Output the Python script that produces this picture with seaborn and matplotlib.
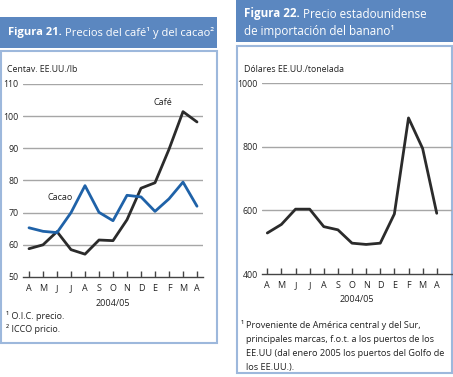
import matplotlib
matplotlib.use("Agg")
import matplotlib.pyplot as plt
from matplotlib.patches import Rectangle
import seaborn as sns
import pandas as pd

# ---- data ----
months = ["A", "M", "J", "J", "A", "S", "O", "N", "D", "E", "F", "M", "A"]
cafe = [58.8, 60.0, 64.1, 58.5, 57.1, 61.5, 61.3, 67.8, 77.6, 79.3, 89.7, 101.4, 98.2]
cacao = [65.3, 64.2, 63.8, 70.0, 78.4, 70.1, 67.5, 75.4, 74.9, 70.4, 74.3, 79.5, 72.0]
banano = [529, 556, 604, 604, 549, 539, 497, 493, 497, 589, 891, 795, 591]
left_yticks = [50, 60, 70, 80, 90, 100, 110]
right_yticks = [400, 600, 800, 1000]

sns.set_theme(style="white")
plt.rcParams['font.family'] = ['Open Sans', 'DejaVu Sans']

W, H = 453, 377
fig = plt.figure(figsize=(W / 100, H / 100), dpi=100)
bg = fig.add_axes([0, 0, 1, 1])
bg.set_xlim(0, W)
bg.set_ylim(H, 0)
bg.axis("off")

HEAD = "#5b87c0"
BORDER = "#9db8dc"
TXT = "#222222"

# panels
bg.add_patch(Rectangle((0, 17), 217, 31, facecolor=HEAD, edgecolor="none"))
bg.add_patch(Rectangle((0.8, 51), 216, 292, facecolor="white", edgecolor=BORDER, lw=1.5))
bg.add_patch(Rectangle((236, 0), 217, 42, facecolor=HEAD, edgecolor="none"))
bg.add_patch(Rectangle((236.8, 46), 215.5, 327, facecolor="white", edgecolor=BORDER, lw=1.5))

renderer = fig.canvas.get_renderer()


def two_part(x, y, bold, regular, size):
    t = bg.text(x, y, bold, color="white", fontsize=size, fontweight="bold", va="center", ha="left")
    bb = t.get_window_extent(renderer=renderer)
    x2 = bb.x1 / fig.dpi * 100 + 3
    bg.text(x2, y, regular, color="white", fontsize=size, va="center", ha="left")


two_part(8, 33, "Figura 21.", "Precios del café¹ y del cacao²", 8)
two_part(244, 14, "Figura 22.", "Precio estadounidense", 8.4)
bg.text(244, 32, "de importación del banano¹", color="white", fontsize=8.4, va="center", ha="left")

bg.text(7, 70, "Centav. EE.UU./lb", color=TXT, fontsize=6.3, va="center")
bg.text(244, 70, "Dólares EE.UU./tonelada", color=TXT, fontsize=6.3, va="center")

bg.text(6, 316, "¹ O.I.C. precio.", color=TXT, fontsize=6.5, va="center")
bg.text(6, 329, "² ICCO pricio.", color=TXT, fontsize=6.5, va="center")

foot = ["Proveniente de América central y del Sur,",
        "principales marcas, f.o.t. a los puertos de los",
        "EE.UU (dal enero 2005 los puertos del Golfo de",
        "los EE.UU.)."]
bg.text(241, 326, "¹", color=TXT, fontsize=6.6, va="center")
for i, line in enumerate(foot):
    bg.text(246, 326 + i * 13.8, line, color=TXT, fontsize=6.6, va="center")


def px_axes(x0, x1, ytop, ybot):
    return fig.add_axes([x0 / W, 1 - ybot / H, (x1 - x0) / W, (ybot - ytop) / H])


def style(ax, yticks):
    for s in ["left", "right", "top"]:
        ax.spines[s].set_visible(False)
    ax.spines["bottom"].set_color("#444444")
    ax.spines["bottom"].set_linewidth(1.0)
    ax.set_yticks(yticks)
    ax.set_xticks(range(13))
    ax.set_xticklabels(months)
    for yv in yticks[1:]:
        ax.axhline(yv, color="#a6a6a6", lw=1.0, zorder=0)
    ax.tick_params(axis="x", direction="in", length=4.5, width=1.0, color="#444444",
                   labelsize=6.5, labelcolor=TXT, pad=5, bottom=True)
    ax.tick_params(axis="y", length=0, labelsize=6.3, labelcolor=TXT, pad=3)
    ax.set_xlabel("2004/05", fontsize=6.5, color=TXT, labelpad=4)
    ax.set_ylabel("")
    ax.grid(False)
    ax.set_facecolor("none")


# left chart
df_l = pd.DataFrame({
    "x": list(range(13)) * 2,
    "v": cafe + cacao,
    "s": ["Café"] * 13 + ["Cacao"] * 13,
})
ax1 = px_axes(23, 203, 84, 277)
sns.lineplot(data=df_l, x="x", y="v", hue="s", palette={"Café": "#2b2b2b", "Cacao": "#1f62a8"},
             lw=2.0, legend=False, ax=ax1, zorder=3)
ax1.set_xlim(-6 / 14, 12 + 6 / 14)
ax1.set_ylim(50, 110)
style(ax1, left_yticks)
ax1.text(8.9, 104.2, "Café", fontsize=6.5, color=TXT, ha="left", va="center")
ax1.text(1.3, 74.8, "Cacao", fontsize=6.5, color=TXT, ha="left", va="center")

# right chart
df_r = pd.DataFrame({"x": list(range(13)), "v": banano})
ax2 = px_axes(262, 452, 83.3, 274)
sns.lineplot(data=df_r, x="x", y="v", color="#2b2b2b", lw=2.0, ax=ax2, zorder=3)
ax2.set_xlim((262 - 267.3) / 14.12, (452 - 267.3) / 14.12)
ax2.set_ylim(400, 1000)
style(ax2, right_yticks)

fig.savefig("out.png", dpi=100)
